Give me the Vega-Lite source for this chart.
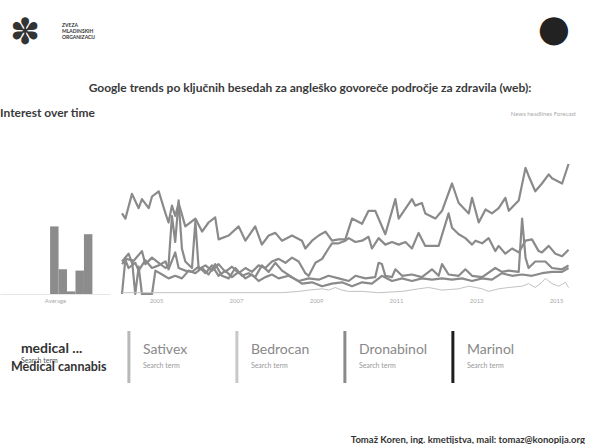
{
"$schema": "https://vega.github.io/schema/vega-lite/v6.json",
"background": "white",
"padding": {"left": 0, "top": 10, "right": 0, "bottom": 0},
"config": {"view": {"stroke": null}, "font": "Lato", "title": {"font": "Lato"}, "text": {"font": "Lato"}},
"datasets": {
"logos": [{"side": "left", "name": "ZVEZA\nMLADINSKIH\nORGANIZACIJ"}, {"side": "right", "name": "konopija"}],
"avg": [{"term": "medical ...", "v": 52}, {"term": "Sativex", "v": 19}, {"term": "Bedrocan", "v": 2}, {"term": "Dronabinol", "v": 18}, {"term": "Marinol", "v": 46}],
"terms": [{"term": "medical ..."}, {"term": "Sativex"}, {"term": "Bedrocan"}, {"term": "Dronabinol"}, {"term": "Marinol"}],
"trends": [
{"s":"A","d":"2004-01","v":62},{"s":"A","d":"2004-02","v":58},{"s":"A","d":"2004-04","v":77},{"s":"A","d":"2004-06","v":66},{"s":"A","d":"2004-07","v":73},{"s":"A","d":"2004-09","v":66},{"s":"A","d":"2004-10","v":75},{"s":"A","d":"2004-12","v":79},{"s":"A","d":"2005-02","v":62},{"s":"A","d":"2005-03","v":55},{"s":"A","d":"2005-04","v":68},{"s":"A","d":"2005-05","v":60},{"s":"A","d":"2005-06","v":70},{"s":"A","d":"2005-08","v":52},{"s":"A","d":"2005-11","v":58},{"s":"A","d":"2006-01","v":48},{"s":"A","d":"2006-03","v":55},{"s":"A","d":"2006-05","v":59},{"s":"A","d":"2006-06","v":42},{"s":"A","d":"2006-09","v":45},{"s":"A","d":"2006-12","v":52},{"s":"A","d":"2007-02","v":41},{"s":"A","d":"2007-05","v":52},{"s":"A","d":"2007-07","v":38},{"s":"A","d":"2007-09","v":45},{"s":"A","d":"2007-11","v":47},{"s":"A","d":"2008-01","v":41},{"s":"A","d":"2008-04","v":45},{"s":"A","d":"2008-07","v":41},{"s":"A","d":"2008-08","v":35},{"s":"A","d":"2008-10","v":41},{"s":"A","d":"2008-12","v":45},{"s":"A","d":"2009-02","v":48},{"s":"A","d":"2009-04","v":41},{"s":"A","d":"2009-06","v":42},{"s":"A","d":"2009-08","v":42},{"s":"A","d":"2009-10","v":58},{"s":"A","d":"2010-01","v":54},{"s":"A","d":"2010-03","v":64},{"s":"A","d":"2010-05","v":64},{"s":"A","d":"2010-08","v":46},{"s":"A","d":"2010-11","v":73},{"s":"A","d":"2010-12","v":58},{"s":"A","d":"2011-04","v":73},{"s":"A","d":"2011-05","v":68},{"s":"A","d":"2011-07","v":70},{"s":"A","d":"2011-08","v":62},{"s":"A","d":"2011-11","v":58},{"s":"A","d":"2012-01","v":64},{"s":"A","d":"2012-04","v":85},{"s":"A","d":"2012-06","v":70},{"s":"A","d":"2012-09","v":62},{"s":"A","d":"2012-10","v":74},{"s":"A","d":"2012-12","v":55},{"s":"A","d":"2013-02","v":65},{"s":"A","d":"2013-04","v":62},{"s":"A","d":"2013-06","v":66},{"s":"A","d":"2013-08","v":74},{"s":"A","d":"2013-09","v":64},{"s":"A","d":"2013-12","v":72},{"s":"A","d":"2014-02","v":97},{"s":"A","d":"2014-03","v":91},{"s":"A","d":"2014-05","v":79},{"s":"A","d":"2014-07","v":85},{"s":"A","d":"2014-09","v":92},{"s":"A","d":"2014-10","v":89},{"s":"A","d":"2015-01","v":85},{"s":"A","d":"2015-03","v":100},
{"s":"B","d":"2004-01","v":25},{"s":"B","d":"2004-03","v":31},{"s":"B","d":"2004-04","v":24},{"s":"B","d":"2004-07","v":33},{"s":"B","d":"2004-08","v":23},{"s":"B","d":"2004-10","v":28},{"s":"B","d":"2004-12","v":24},{"s":"B","d":"2005-02","v":20},{"s":"B","d":"2005-03","v":22},{"s":"B","d":"2005-04","v":60},{"s":"B","d":"2005-05","v":40},{"s":"B","d":"2005-06","v":72},{"s":"B","d":"2005-07","v":35},{"s":"B","d":"2005-08","v":25},{"s":"B","d":"2005-10","v":20},{"s":"B","d":"2005-11","v":56},{"s":"B","d":"2005-12","v":19},{"s":"B","d":"2006-02","v":22},{"s":"B","d":"2006-04","v":18},{"s":"B","d":"2006-06","v":23},{"s":"B","d":"2006-08","v":17},{"s":"B","d":"2006-10","v":21},{"s":"B","d":"2006-12","v":16},{"s":"B","d":"2007-02","v":20},{"s":"B","d":"2007-04","v":17},{"s":"B","d":"2007-06","v":22},{"s":"B","d":"2007-08","v":20},{"s":"B","d":"2007-10","v":25},{"s":"B","d":"2007-12","v":27},{"s":"B","d":"2008-02","v":24},{"s":"B","d":"2008-04","v":28},{"s":"B","d":"2008-06","v":25},{"s":"B","d":"2008-08","v":16},{"s":"B","d":"2008-09","v":14},{"s":"B","d":"2008-11","v":24},{"s":"B","d":"2009-01","v":27},{"s":"B","d":"2009-03","v":35},{"s":"B","d":"2009-04","v":39},{"s":"B","d":"2009-06","v":39},{"s":"B","d":"2009-08","v":41},{"s":"B","d":"2009-09","v":43},{"s":"B","d":"2009-11","v":40},{"s":"B","d":"2010-01","v":41},{"s":"B","d":"2010-03","v":44},{"s":"B","d":"2010-04","v":35},{"s":"B","d":"2010-06","v":43},{"s":"B","d":"2010-08","v":38},{"s":"B","d":"2010-10","v":40},{"s":"B","d":"2010-12","v":38},{"s":"B","d":"2011-02","v":40},{"s":"B","d":"2011-04","v":35},{"s":"B","d":"2011-06","v":47},{"s":"B","d":"2011-08","v":37},{"s":"B","d":"2011-10","v":37},{"s":"B","d":"2011-12","v":37},{"s":"B","d":"2012-03","v":62},{"s":"B","d":"2012-04","v":51},{"s":"B","d":"2012-06","v":46},{"s":"B","d":"2012-08","v":43},{"s":"B","d":"2012-10","v":38},{"s":"B","d":"2012-11","v":41},{"s":"B","d":"2013-01","v":39},{"s":"B","d":"2013-03","v":43},{"s":"B","d":"2013-05","v":33},{"s":"B","d":"2013-06","v":37},{"s":"B","d":"2013-08","v":31},{"s":"B","d":"2013-10","v":35},{"s":"B","d":"2013-12","v":32},{"s":"B","d":"2014-02","v":41},{"s":"B","d":"2014-04","v":42},{"s":"B","d":"2014-06","v":33},{"s":"B","d":"2014-07","v":32},{"s":"B","d":"2014-09","v":37},{"s":"B","d":"2014-11","v":31},{"s":"B","d":"2015-01","v":29},{"s":"B","d":"2015-03","v":34},
{"s":"C","d":"2004-01","v":23},{"s":"C","d":"2004-02","v":26},{"s":"C","d":"2004-03","v":20},{"s":"C","d":"2004-05","v":24},{"s":"C","d":"2004-06","v":18},{"s":"C","d":"2004-08","v":26},{"s":"C","d":"2004-10","v":20},{"s":"C","d":"2004-12","v":22},{"s":"C","d":"2005-02","v":25},{"s":"C","d":"2005-03","v":19},{"s":"C","d":"2005-05","v":32},{"s":"C","d":"2005-06","v":20},{"s":"C","d":"2005-08","v":18},{"s":"C","d":"2005-10","v":17},{"s":"C","d":"2005-12","v":21},{"s":"C","d":"2006-02","v":16},{"s":"C","d":"2006-04","v":22},{"s":"C","d":"2006-06","v":14},{"s":"C","d":"2006-08","v":18},{"s":"C","d":"2006-10","v":13},{"s":"C","d":"2006-12","v":17},{"s":"C","d":"2007-02","v":12},{"s":"C","d":"2007-04","v":15},{"s":"C","d":"2007-06","v":10},{"s":"C","d":"2007-08","v":13},{"s":"C","d":"2007-10","v":15},{"s":"C","d":"2007-12","v":12},{"s":"C","d":"2008-03","v":14},{"s":"C","d":"2008-06","v":10},{"s":"C","d":"2008-09","v":12},{"s":"C","d":"2008-12","v":11},{"s":"C","d":"2009-03","v":14},{"s":"C","d":"2009-06","v":12},{"s":"C","d":"2009-09","v":10},{"s":"C","d":"2009-11","v":14},{"s":"C","d":"2010-02","v":12},{"s":"C","d":"2010-05","v":13},{"s":"C","d":"2010-06","v":24},{"s":"C","d":"2010-07","v":23},{"s":"C","d":"2010-08","v":14},{"s":"C","d":"2010-10","v":13},{"s":"C","d":"2010-11","v":19},{"s":"C","d":"2011-01","v":14},{"s":"C","d":"2011-04","v":15},{"s":"C","d":"2011-07","v":13},{"s":"C","d":"2011-10","v":19},{"s":"C","d":"2011-12","v":14},{"s":"C","d":"2012-01","v":23},{"s":"C","d":"2012-03","v":15},{"s":"C","d":"2012-06","v":14},{"s":"C","d":"2012-08","v":19},{"s":"C","d":"2012-10","v":14},{"s":"C","d":"2013-01","v":13},{"s":"C","d":"2013-05","v":20},{"s":"C","d":"2013-07","v":17},{"s":"C","d":"2013-09","v":18},{"s":"C","d":"2013-12","v":17},{"s":"C","d":"2014-01","v":58},{"s":"C","d":"2014-02","v":28},{"s":"C","d":"2014-03","v":20},{"s":"C","d":"2014-05","v":25},{"s":"C","d":"2014-08","v":25},{"s":"C","d":"2014-10","v":20},{"s":"C","d":"2015-01","v":19},{"s":"C","d":"2015-03","v":22},
{"s":"D","d":"2004-01","v":0},{"s":"D","d":"2004-02","v":27},{"s":"D","d":"2004-04","v":26},{"s":"D","d":"2004-05","v":0},{"s":"D","d":"2004-06","v":21},{"s":"D","d":"2004-07","v":0},{"s":"D","d":"2004-10","v":0},{"s":"D","d":"2004-11","v":18},{"s":"D","d":"2005-01","v":15},{"s":"D","d":"2005-03","v":12},{"s":"D","d":"2005-05","v":14},{"s":"D","d":"2005-07","v":12},{"s":"D","d":"2005-09","v":18},{"s":"D","d":"2005-11","v":16},{"s":"D","d":"2006-01","v":20},{"s":"D","d":"2006-03","v":15},{"s":"D","d":"2006-05","v":23},{"s":"D","d":"2006-07","v":14},{"s":"D","d":"2006-09","v":12},{"s":"D","d":"2006-11","v":20},{"s":"D","d":"2007-01","v":14},{"s":"D","d":"2007-03","v":16},{"s":"D","d":"2007-05","v":13},{"s":"D","d":"2007-07","v":22},{"s":"D","d":"2007-09","v":17},{"s":"D","d":"2007-11","v":24},{"s":"D","d":"2008-01","v":18},{"s":"D","d":"2008-04","v":13},{"s":"D","d":"2008-07","v":8},{"s":"D","d":"2008-10","v":9},{"s":"D","d":"2009-01","v":6},{"s":"D","d":"2009-04","v":8},{"s":"D","d":"2009-07","v":9},{"s":"D","d":"2009-10","v":6},{"s":"D","d":"2010-01","v":9},{"s":"D","d":"2010-04","v":8},{"s":"D","d":"2010-07","v":14},{"s":"D","d":"2010-10","v":10},{"s":"D","d":"2011-01","v":12},{"s":"D","d":"2011-04","v":10},{"s":"D","d":"2011-07","v":12},{"s":"D","d":"2011-10","v":11},{"s":"D","d":"2012-01","v":12},{"s":"D","d":"2012-04","v":11},{"s":"D","d":"2012-07","v":12},{"s":"D","d":"2012-10","v":10},{"s":"D","d":"2013-01","v":12},{"s":"D","d":"2013-04","v":11},{"s":"D","d":"2013-07","v":16},{"s":"D","d":"2013-10","v":14},{"s":"D","d":"2014-01","v":15},{"s":"D","d":"2014-04","v":14},{"s":"D","d":"2014-07","v":16},{"s":"D","d":"2014-10","v":17},{"s":"D","d":"2015-01","v":17},{"s":"D","d":"2015-03","v":20},
{"s":"E","d":"2004-01","v":1},{"s":"E","d":"2005-01","v":1},{"s":"E","d":"2006-01","v":1},{"s":"E","d":"2007-01","v":1},{"s":"E","d":"2008-01","v":1},{"s":"E","d":"2008-06","v":2},{"s":"E","d":"2008-09","v":3},{"s":"E","d":"2009-01","v":4},{"s":"E","d":"2009-03","v":3},{"s":"E","d":"2009-05","v":5},{"s":"E","d":"2009-07","v":3},{"s":"E","d":"2009-09","v":2},{"s":"E","d":"2010-01","v":2},{"s":"E","d":"2010-06","v":1},{"s":"E","d":"2011-01","v":2},{"s":"E","d":"2011-06","v":4},{"s":"E","d":"2011-09","v":5},{"s":"E","d":"2012-01","v":3},{"s":"E","d":"2012-06","v":4},{"s":"E","d":"2012-09","v":6},{"s":"E","d":"2013-01","v":4},{"s":"E","d":"2013-03","v":2},{"s":"E","d":"2013-06","v":4},{"s":"E","d":"2013-09","v":5},{"s":"E","d":"2014-01","v":6},{"s":"E","d":"2014-03","v":8},{"s":"E","d":"2014-05","v":5},{"s":"E","d":"2014-07","v":9},{"s":"E","d":"2014-08","v":12},{"s":"E","d":"2014-10","v":8},{"s":"E","d":"2014-12","v":6},{"s":"E","d":"2015-02","v":9},{"s":"E","d":"2015-03","v":5}
]
},
"spacing": 26,
"vconcat": [
{
"width": 576, "height": 46,
"data": {"name": "logos"},
"encoding": {"x": {"field": "side", "type": "nominal", "bandPosition": 0, "scale": {"type": "band", "domain": ["left", "right"], "paddingInner": 0, "paddingOuter": 0}, "axis": null}},
"layer": [
{"transform": [{"filter": "datum.side == 'left'"}], "mark": {"type": "text", "align": "left", "baseline": "middle", "dx": 62, "dy": -8, "fontSize": 5, "fontWeight": "bold", "lineBreak": "\n", "lineHeight": 6, "color": "#333"}, "encoding": {"text": {"field": "name"}}},
{"transform": [{"filter": "datum.side == 'left'"}], "mark": {"type": "text", "text": "✽", "align": "center", "baseline": "middle", "dx": 25, "dy": 0, "fontSize": 36, "font": "DejaVu Sans", "color": "#333"}},
{"transform": [{"filter": "datum.side == 'right'"}], "mark": {"type": "text", "text": "●", "align": "center", "baseline": "middle", "dx": 266, "dy": -3, "fontSize": 37, "font": "DejaVu Sans", "color": "#222"}}
]
},
{
"title": {"text": "Google trends po ključnih besedah za angleško govoreče področje za zdravila (web):", "fontSize": 12, "fontWeight": "bold", "color": "#3a3a3a", "anchor": "middle", "dx": 22, "offset": 12},
"bounds": "flush",
"spacing": 12,
"hconcat": [
{
"width": 110, "height": 130,
"title": {"text": "Interest over time", "anchor": "start", "fontSize": 12, "fontWeight": "bold", "color": "#3a3a3a", "offset": 44},
"data": {"name": "avg"},
"mark": {"type": "bar", "color": "#8c8c8c"},
"encoding": {
"x": {"field": "term", "type": "nominal", "sort": null, "scale": {"type": "band", "domain": ["_a", "_b", "_c", "_d", "medical ...", "Sativex", "Bedrocan", "Dronabinol", "Marinol", "_e", "_f"], "paddingInner": 0, "paddingOuter": 1, "align": 0.96}, "axis": {"title": "Average", "labels": false, "ticks": false, "domain": true, "domainColor": "#e6e6e6", "titleFontSize": 6, "titleColor": "#aaa", "titleFontWeight": "normal", "titlePadding": 3}},
"y": {"field": "v", "type": "quantitative", "scale": {"domain": [0, 100]}, "axis": null}
}
},
{
"width": 454, "height": 130,
"title": {"text": "News headlines        Forecast", "anchor": "end", "fontSize": 6, "color": "#aaa", "fontWeight": "normal", "offset": 46},
"data": {"name": "trends"},
"encoding": {
"x": {"field": "d", "type": "temporal", "scale": {"domain": [{"year": 2004, "month": 1, "date": 1}, {"year": 2015, "month": 5, "date": 8}]}, "axis": {"values": [{"year": 2005, "month": 1, "date": 1}, {"year": 2007, "month": 1, "date": 1}, {"year": 2009, "month": 1, "date": 1}, {"year": 2011, "month": 1, "date": 1}, {"year": 2013, "month": 1, "date": 1}, {"year": 2015, "month": 1, "date": 1}], "format": "%Y", "title": null, "grid": false, "ticks": false, "domain": false, "labelFontSize": 6, "labelColor": "#aaa", "labelPadding": 3, "labelOffset": -6}},
"y": {"field": "v", "type": "quantitative", "scale": {"domain": [0, 100]}, "axis": null},
"detail": {"field": "s", "type": "nominal"}
},
"layer": [
{"transform": [{"filter": "datum.s != 'E'"}], "mark": {"type": "line", "color": "#8a8a8a", "strokeWidth": 2.2, "strokeJoin": "round"}},
{"transform": [{"filter": "datum.s == 'E'"}], "mark": {"type": "line", "color": "#c2c2c2", "strokeWidth": 1, "strokeJoin": "round"}}
]
}
]
},
{
"width": 576, "height": 52,
"title": {"text": "Tomaž Koren, ing. kmetijstva, mail: tomaz@konopija.org", "orient": "bottom", "anchor": "end", "fontSize": 9.5, "fontWeight": "bold", "color": "#333", "offset": 50, "dx": 9},
"data": {"name": "terms"},
"encoding": {"x": {"field": "term", "type": "nominal", "sort": null, "bandPosition": 0, "scale": {"type": "band", "domain": ["medical ...", "Sativex", "Bedrocan", "Dronabinol", "Marinol"], "paddingInner": 0, "paddingOuter": 0.1667, "align": 0.58}, "axis": null}},
"layer": [
{"transform": [{"filter": "datum.term != 'medical ...'"}], "mark": {"type": "rule", "strokeWidth": 3}, "encoding": {"color": {"field": "term", "type": "nominal", "scale": {"domain": ["Sativex", "Bedrocan", "Dronabinol", "Marinol"], "range": ["#b8b8b8", "#c8c8c8", "#8a8a8a", "#1e1e1e"]}, "legend": null}}},
{"transform": [{"filter": "datum.term == 'medical ...'"}], "mark": {"type": "text", "align": "left", "baseline": "middle", "dx": 0, "dy": -8, "fontSize": 14, "fontWeight": "bold", "color": "#333"}, "encoding": {"text": {"field": "term"}}},
{"transform": [{"filter": "datum.term != 'medical ...'"}], "mark": {"type": "text", "align": "left", "baseline": "middle", "dx": 14, "dy": -7, "fontSize": 14, "color": "#888"}, "encoding": {"text": {"field": "term"}}},
{"transform": [{"filter": "datum.term == 'medical ...'"}], "mark": {"type": "text", "text": "Search term", "align": "left", "baseline": "middle", "dx": 0, "dy": 4, "fontSize": 7, "color": "#555"}},
{"transform": [{"filter": "datum.term != 'medical ...'"}], "mark": {"type": "text", "text": "Search term", "align": "left", "baseline": "middle", "dx": 14, "dy": 9, "fontSize": 7, "color": "#999"}},
{"transform": [{"filter": "datum.term == 'medical ...'"}], "mark": {"type": "text", "text": "Medical cannabis", "align": "left", "baseline": "middle", "dx": -10, "dy": 10, "fontSize": 12.5, "fontWeight": "bold", "color": "#333"}}
]
}
]
}
